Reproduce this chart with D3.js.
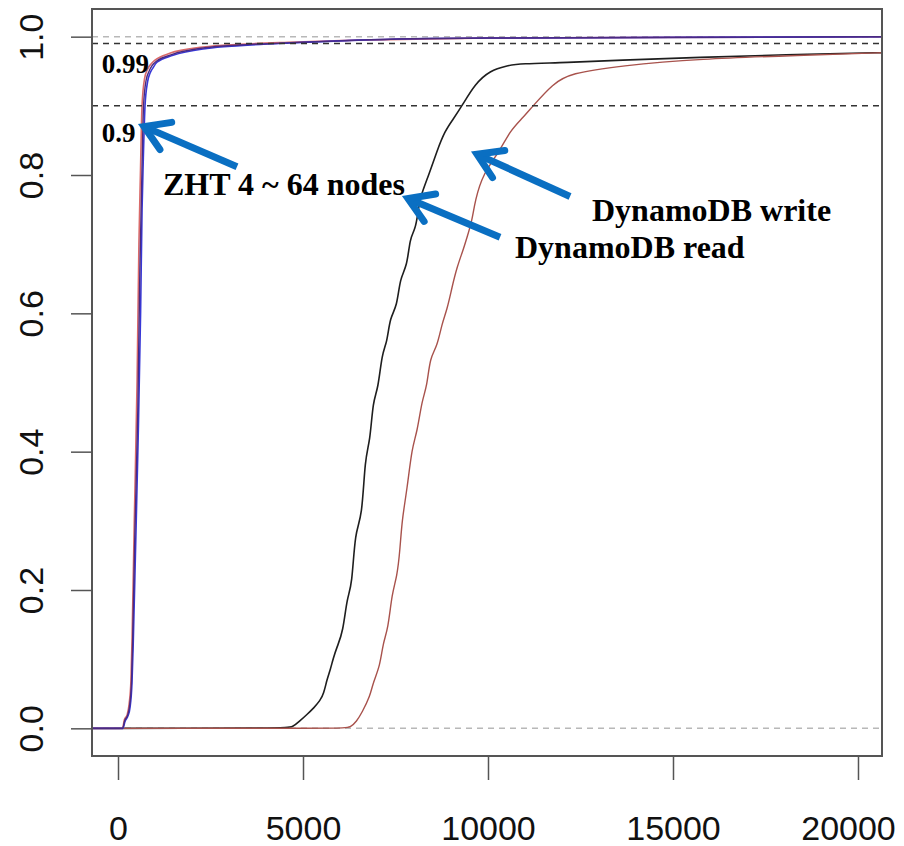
<!DOCTYPE html>
<html>
<head>
<meta charset="utf-8">
<script src="https://cdn.jsdelivr.net/npm/d3@7"></script>
<style>
  html, body { margin: 0; padding: 0; background: #fff; }
  svg { display: block; }
</style>
</head>
<body>
<svg id="chart" width="904" height="846"></svg>
<script>
// ---------------- data ----------------
const xTicks = [0, 5000, 10000, 15000, 20000];
const yTicks = [0, 0.2, 0.4, 0.6, 0.8, 1.0];
const refLevels = [0.9, 0.99];          // black dashed guides
const boundLevels = [0, 1];             // gray dashed guides

// ZHT (4 ~ 64 nodes) ECDFs  [latency, cumulative fraction]
const zhtRed = [[-1000,0],[120,0],[170,0.012],[250,0.02],[300,0.035],[350,0.07],[380,0.13],[440,0.3],[515,0.5],[565,0.7],[605,0.8],[649,0.9],[720,0.94],[800,0.953],[900,0.961],[1000,0.966],[1400,0.976],[2300,0.985],[3300,0.989],[4600,0.992],[6500,0.995],[10000,0.998],[15000,0.999],[22000,1.0]];
const zhtPurple = [[-1000,0],[125,0],[180,0.011],[260,0.019],[312,0.032],[365,0.068],[395,0.125],[455,0.28],[535,0.46],[590,0.66],[645,0.8],[690,0.9],[760,0.937],[840,0.95],[920,0.958],[1030,0.964],[1450,0.974],[2350,0.984],[3300,0.988],[4620,0.991],[6500,0.995],[10000,0.998],[15000,0.999],[22000,1.0]];
const zhtBlue = [[-1000,0],[130,0],[190,0.01],[270,0.018],[324,0.03],[378,0.066],[410,0.12],[470,0.25],[545,0.42],[610,0.6],[650,0.75],[682,0.82],[730,0.9],[800,0.935],[865,0.947],[946,0.955],[1054,0.963],[1487,0.973],[2406,0.983],[3298,0.987],[4650,0.991],[6500,0.995],[10000,0.998],[15000,0.999],[22000,1.0]];

// DynamoDB read ECDF
const dynRead = [[-1000,0],[4514,0],[4730,0.002],[4900,0.01],[5108,0.02],[5300,0.03],[5460,0.04],[5560,0.05],[5649,0.071],[5740,0.085],[5811,0.1],[5919,0.118],[6081,0.139],[6190,0.19],[6325,0.205],[6406,0.287],[6595,0.302],[6676,0.393],[6811,0.413],[6892,0.475],[7027,0.489],[7136,0.543],[7271,0.557],[7352,0.595],[7541,0.609],[7622,0.652],[7812,0.667],[7892,0.71],[8027,0.72],[8108,0.745],[8163,0.768],[8400,0.8],[8622,0.835],[8839,0.864],[9050,0.88],[9298,0.9],[9650,0.932],[10055,0.951],[10500,0.958],[10866,0.961],[12136,0.9625],[13500,0.966],[15730,0.970],[18000,0.974],[20650,0.977],[22000,0.978]];

// DynamoDB write ECDF
const dynWrite = [[-1000,0],[6135,0],[6270,0.001],[6450,0.01],[6595,0.023],[6811,0.046],[6892,0.066],[7082,0.09],[7163,0.124],[7298,0.143],[7406,0.196],[7541,0.219],[7622,0.258],[7676,0.302],[7812,0.345],[7947,0.407],[8082,0.427],[8217,0.475],[8352,0.494],[8433,0.537],[8623,0.551],[8758,0.586],[8893,0.605],[9028,0.638],[9163,0.667],[9325,0.691],[9433,0.71],[9569,0.734],[9650,0.763],[9866,0.802],[10325,0.835],[10596,0.864],[10947,0.883],[11217,0.9],[11757,0.932],[12217,0.947],[13570,0.958],[15730,0.968],[18434,0.973],[20650,0.977],[22000,0.978]];

const seriesList = [
  { name: "DynamoDB read",  data: dynRead,   color: "#1e1e1e", width: 1.6, smooth: true },
  { name: "DynamoDB write", data: dynWrite,  color: "#a8524c", width: 1.4, smooth: true },
  { name: "ZHT red",        data: zhtRed,    color: "#d96a6a", width: 1.6, smooth: false },
  { name: "ZHT blue",       data: zhtBlue,   color: "#3838d6", width: 1.6, smooth: false },
  { name: "ZHT purple",     data: zhtPurple, color: "#4a2a80", width: 1.4, smooth: false }
];

// annotations: text labels and arrows, in data units
const labels = [
  { text: "0.99", x: -440, y: 0.948, size: 27 },
  { text: "0.9",  x: -440, y: 0.847, size: 27 },
  { text: "ZHT 4 ~ 64 nodes", x: 1216, y: 0.771, size: 32 },
  { text: "DynamoDB write",   x: 12811, y: 0.734, size: 32 },
  { text: "DynamoDB read",    x: 10730, y: 0.680, size: 32 }
];
const arrows = [
  { from: [3216, 0.812],  to: [703, 0.870] },
  { from: [10325, 0.710], to: [7838, 0.766] },
  { from: [12217, 0.769], to: [9703, 0.830] }
];

// ---------------- layout ----------------
const svg = d3.select("#chart");
const mLeft = 92, mRight = 882, mTop = 9, mBottom = 756;

const x = d3.scaleLinear().domain([-703, 20649]).range([mLeft, mRight]);
const y = d3.scaleLinear().domain([-0.04, 1.04]).range([mBottom, mTop]);

svg.append("defs").append("clipPath").attr("id", "plotclip")
  .append("rect").attr("x", mLeft).attr("y", mTop)
  .attr("width", mRight - mLeft).attr("height", mBottom - mTop);

const plot = svg.append("g").attr("clip-path", "url(#plotclip)");

// gray dashed bound lines
plot.selectAll("line.bound").data(boundLevels).enter().append("line")
  .attr("class", "bound")
  .attr("x1", mLeft).attr("x2", mRight)
  .attr("y1", d => y(d)).attr("y2", d => y(d))
  .attr("stroke", "#b8b8b8").attr("stroke-width", 1.5)
  .attr("stroke-dasharray", "6,5");

// curves
const lineSharp = d3.line().x(d => x(d[0])).y(d => y(d[1])).curve(d3.curveMonotoneX);
const lineSmooth = d3.line().x(d => x(d[0])).y(d => y(d[1])).curve(d3.curveBasis);
plot.selectAll("path.series").data(seriesList).enter().append("path")
  .attr("class", "series")
  .attr("d", d => (d.smooth ? lineSmooth : lineSharp)(d.data))
  .attr("fill", "none")
  .attr("stroke", d => d.color)
  .attr("stroke-width", d => d.width)
  .attr("stroke-linejoin", "round");

// black dashed reference lines
plot.selectAll("line.ref").data(refLevels).enter().append("line")
  .attr("class", "ref")
  .attr("x1", mLeft).attr("x2", mRight)
  .attr("y1", d => y(d)).attr("y2", d => y(d))
  .attr("stroke", "#333").attr("stroke-width", 1.5)
  .attr("stroke-dasharray", "6,5");

// box
svg.append("rect")
  .attr("x", mLeft).attr("y", mTop)
  .attr("width", mRight - mLeft).attr("height", mBottom - mTop)
  .attr("fill", "none").attr("stroke", "#555").attr("stroke-width", 2);

// x axis
const xAxis = svg.append("g").attr("transform", `translate(0,${mBottom})`)
  .call(d3.axisBottom(x).tickValues(xTicks).tickFormat(d3.format("d"))
    .tickSize(24).tickPadding(36));
xAxis.select(".domain").remove();
xAxis.selectAll(".tick line").attr("stroke", "#555").attr("stroke-width", 1.5);
xAxis.selectAll(".tick text")
  .attr("font-family", "Liberation Sans, Arial, sans-serif")
  .attr("font-size", 34).attr("fill", "#111")
  .attr("x", (d, i, n) => i === n.length - 1 ? -10 : 0);

// y axis
const yAxis = svg.append("g").attr("transform", `translate(${mLeft},0)`)
  .call(d3.axisLeft(y).tickValues(yTicks).tickFormat(d3.format(".1f")).tickSize(21));
yAxis.select(".domain").remove();
yAxis.selectAll(".tick line").attr("stroke", "#555").attr("stroke-width", 1.5);
yAxis.selectAll(".tick text")
  .attr("x", 0).attr("y", 0).attr("dy", 0)
  .attr("text-anchor", "middle")
  .attr("transform", "translate(-49,0) rotate(-90)")
  .attr("font-family", "Liberation Sans, Arial, sans-serif")
  .attr("font-size", 34).attr("fill", "#111");

// annotations
const ann = svg.append("g");
ann.selectAll("text").data(labels).enter().append("text")
  .attr("x", d => x(d.x)).attr("y", d => y(d.y))
  .attr("font-family", "Liberation Serif, 'Times New Roman', serif")
  .attr("font-weight", "bold")
  .attr("font-size", d => d.size)
  .attr("fill", "#000")
  .text(d => d.text);

const armLen = 28, armAng = 32 * Math.PI / 180;
arrows.forEach(a => {
  const x1 = x(a.from[0]), y1 = y(a.from[1]);
  const x2 = x(a.to[0]),   y2 = y(a.to[1]);
  const ang = Math.atan2(y1 - y2, x1 - x2); // direction from tip back to tail
  ann.append("line")
    .attr("x1", x1).attr("y1", y1).attr("x2", x2 + 2 * Math.cos(ang)).attr("y2", y2 + 2 * Math.sin(ang))
    .attr("stroke", "#0a6fc2").attr("stroke-width", 7);
  const p1 = [x2 + armLen * Math.cos(ang - armAng), y2 + armLen * Math.sin(ang - armAng)];
  const p2 = [x2 + armLen * Math.cos(ang + armAng), y2 + armLen * Math.sin(ang + armAng)];
  ann.append("path")
    .attr("d", `M${p1[0]},${p1[1]}L${x2},${y2}L${p2[0]},${p2[1]}`)
    .attr("fill", "none").attr("stroke", "#0a6fc2").attr("stroke-width", 7)
    .attr("stroke-linejoin", "miter").attr("stroke-linecap", "round");
});
</script>
</body>
</html>
